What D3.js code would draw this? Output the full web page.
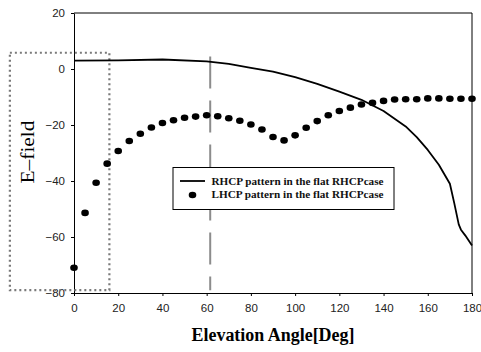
<!DOCTYPE html>
<html lang="en">
<head>
<meta charset="utf-8" />
<title>E-field vs elevation angle</title>
<style>
  body { margin: 0; background: #fff; }
  svg { display: block; }
  .tick text { font-family: "Liberation Sans", Arial, sans-serif; font-size: 11.5px; fill: #222; }
</style>
</head>
<body>
<div id="chart"></div>
<script src="https://cdn.jsdelivr.net/npm/d3@7/dist/d3.min.js"></script>
<script>
"use strict";

// RHCP pattern (solid line)
const rhcpAngle = [0, 20, 40, 60, 70, 80, 90, 100, 110, 120, 130, 140, 150, 155, 160, 165, 170, 172, 174, 175, 177, 180];
const rhcpValue = [3, 3.1, 3.4, 2.7, 1.8, 0.4, -0.9, -2.9, -5.3, -8.1, -11, -15, -20.5, -24.3, -28.9, -34.2, -41, -48, -55.5, -57.4, -59.5, -63];

// LHCP pattern (dots), every 5 deg
const lhcpAngle = d3.range(0, 181, 5);
const lhcpValue = [-71, -51.4, -40.6, -33.8, -29.3, -25.7, -23.1, -20.9, -19.3, -18.3, -17.4, -17, -16.5,
  -16.9, -17.6, -18.5, -19.8, -21.6, -24.3, -25.5, -23.7, -21, -18.6, -16.5, -15, -13.8, -12.7, -12.1,
  -11.4, -10.9, -10.8, -10.8, -10.5, -10.5, -10.6, -10.6, -10.6];

const xTicks = [0, 20, 40, 60, 80, 100, 120, 140, 160, 180];
const yTicks = [20, 0, -20, -40, -60, -80];
const legendLabels = ["RHCP pattern in the flat RHCPcase", "LHCP pattern in the flat RHCPcase"];

// highlighted region (dotted box) and marker line, in data units
const boxAngle = [-29, 16];
const boxValue = [-79, 5.8];
const markerAngle = 61.6;

const width = 481, height = 352;
const margin = {top: 13, right: 9, bottom: 59, left: 74};

const svg = d3.select("#chart").append("svg")
  .attr("width", width).attr("height", height);

const x = d3.scaleLinear().domain([0, 180]).range([margin.left, width - margin.right]);
const y = d3.scaleLinear().domain([-80, 20]).range([height - margin.bottom, margin.top]);

// axes
svg.append("g")
  .attr("transform", `translate(0,${y(-80)})`)
  .call(d3.axisBottom(x).tickValues(xTicks).tickSize(3).tickPadding(8).tickSizeOuter(0))
  .call(g => g.select(".domain").attr("stroke", "#000"));

svg.append("g")
  .attr("transform", `translate(${x(0)},0)`)
  .call(d3.axisLeft(y).tickValues(yTicks).tickSize(3).tickPadding(6).tickSizeOuter(0))
  .call(g => g.select(".domain").attr("stroke", "#000"));

// frame top & right
svg.append("path")
  .attr("d", `M${x(0)},${y(20)}H${x(180)}V${y(-80)}`)
  .attr("fill", "none").attr("stroke", "#000").attr("stroke-width", 1);

// dotted highlight box
svg.append("rect")
  .attr("x", x(boxAngle[0])).attr("y", y(boxValue[1]))
  .attr("width", x(boxAngle[1]) - x(boxAngle[0]))
  .attr("height", y(boxValue[0]) - y(boxValue[1]))
  .attr("fill", "none").attr("stroke", "#7a7a7a")
  .attr("stroke-width", 2.2).attr("stroke-dasharray", "2,3");

// vertical marker line
svg.append("line")
  .attr("x1", x(markerAngle)).attr("x2", x(markerAngle))
  .attr("y1", y(4.5)).attr("y2", y(-79))
  .attr("stroke", "#8c8c8c").attr("stroke-width", 2)
  .attr("stroke-dasharray", "32,12");

// RHCP line
const line = d3.line().x((d, i) => x(rhcpAngle[i])).y(d => y(d));
svg.append("path")
  .datum(rhcpValue)
  .attr("fill", "none").attr("stroke", "#000").attr("stroke-width", 1.8)
  .attr("stroke-linejoin", "round")
  .attr("d", line);

// LHCP dots
svg.append("g").selectAll("ellipse")
  .data(lhcpValue)
  .join("ellipse")
    .attr("cx", (d, i) => x(lhcpAngle[i]))
    .attr("cy", d => y(d))
    .attr("rx", 3.8).attr("ry", 3.3)
    .attr("fill", "#000");

// legend
const lg = svg.append("g").attr("transform", "translate(173,167.5)");
lg.append("rect").attr("width", 221).attr("height", 42)
  .attr("fill", "#fff").attr("stroke", "#000").attr("stroke-width", 1);
lg.append("line").attr("x1", 7).attr("x2", 32).attr("y1", 13.5).attr("y2", 13.5)
  .attr("stroke", "#000").attr("stroke-width", 1.8);
lg.append("ellipse").attr("cx", 19.5).attr("cy", 27.5).attr("rx", 3.8).attr("ry", 3.3).attr("fill", "#000");
lg.selectAll("text.lab")
  .data(legendLabels)
  .join("text")
    .attr("class", "lab")
    .attr("x", 38.5).attr("y", (d, i) => 17.5 + i * 13.3)
    .attr("textLength", 172).attr("lengthAdjust", "spacingAndGlyphs")
    .style("font-family", "'Liberation Serif', 'Times New Roman', serif")
    .style("font-weight", "bold").style("font-size", "10px").attr("fill", "#111")
    .text(d => d);

// axis titles
svg.append("text")
  .attr("x", 273).attr("y", 341)
  .attr("text-anchor", "middle")
  .attr("textLength", 163).attr("lengthAdjust", "spacingAndGlyphs")
  .style("font-family", "'Liberation Serif', 'Times New Roman', serif")
  .style("font-weight", "bold").style("font-size", "18px")
  .text("Elevation Angle[Deg]");

svg.append("text")
  .attr("transform", "translate(33.5,152) rotate(-90)")
  .attr("text-anchor", "middle")
  .attr("textLength", 63).attr("lengthAdjust", "spacingAndGlyphs")
  .style("font-family", "'Liberation Serif', 'Times New Roman', serif")
  .style("font-size", "19px")
  .text("E\u2013field");
</script>
</body>
</html>
